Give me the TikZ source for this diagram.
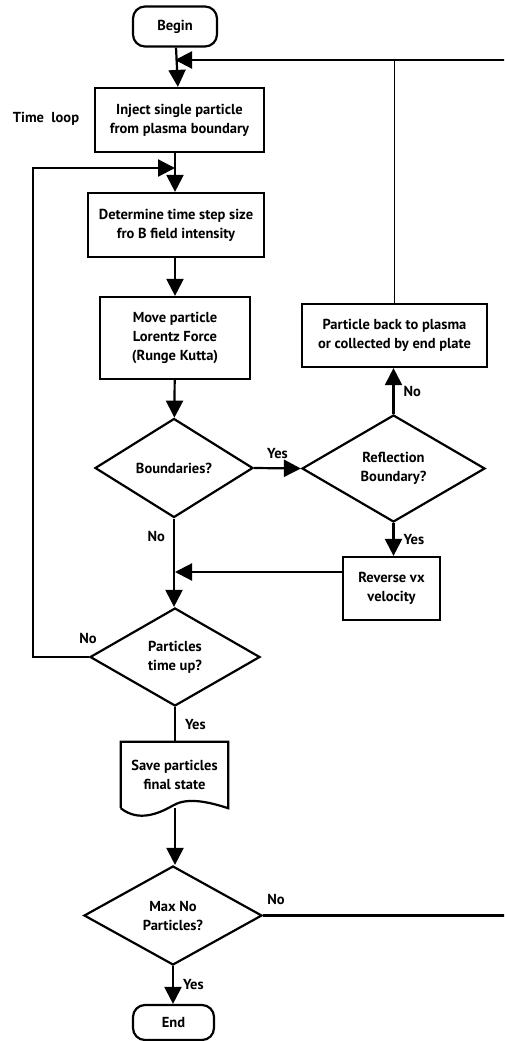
\documentclass[tikz,border=0pt]{standalone}
\usepackage{fontspec}
\setmainfont{PT Sans}
\usetikzlibrary{arrows.meta,shapes.geometric}
\begin{document}
\begin{tikzpicture}[x=1pt,y=-1pt,
  every node/.style={font=\bfseries\fontsize{14.5}{19}\selectfont, align=center},
  flow/.style={line width=2.2pt},
  thinflow/.style={line width=1.2pt},
  arr/.style={flow, -{Triangle[length=17pt,width=17pt]}},
  box/.style={draw, line width=2.2pt, rectangle, inner sep=0pt},
  term/.style={draw, line width=2.2pt, rounded corners=12pt, inner sep=0pt},
  dia/.style={draw, line width=2.2pt, diamond, inner sep=0pt, aspect=1.6},
  lab/.style={inner sep=0pt}
]
\useasboundingbox (0,0) rectangle (504,1041);
\clip (0,0) rectangle (504,1041);

% nodes
\node[term, minimum width=84pt, minimum height=40pt] (begin) at (175,26.5) {Begin};
\node[box, minimum width=169pt, minimum height=64pt] (inject) at (179.5,120) {Inject single particle\\from plasma boundary};
\node[box, minimum width=176pt, minimum height=64pt] (det) at (176,225) {Determine time step size\\fro B field intensity};
\node[box, minimum width=150pt, minimum height=82pt] (move) at (175,338) {Move particle\\Lorentz Force\\(Runge Kutta)};
\node[dia, minimum width=158pt, minimum height=99pt] (bnd) at (174,468) {Boundaries?};
\node[dia, minimum width=183pt, minimum height=107pt] (refl) at (393.5,468.5) {Reflection\\Boundary?};
\node[box, minimum width=185pt, minimum height=63pt] (back) at (394.5,335.5) {Particle back to plasma\\or collected by end plate};
\node[box, minimum width=97pt, minimum height=63pt] (rev) at (391.5,588.5) {Reverse vx\\velocity};
\node[dia, minimum width=170pt, minimum height=98pt] (tup) at (175,657) {Particles\\time up?};
\node[inner sep=0pt, minimum width=107pt, minimum height=66pt] (save) at (174.5,775) {Save particles\\final state};
\node[dia, minimum width=178pt, minimum height=99pt] (max) at (173,915.5) {Max No\\Particles?};
\node[term, minimum width=81pt, minimum height=35pt] (end) at (173.5,1022.5) {End};

% document shape for save
\draw[line width=2.2pt] (save.south west) -- (save.north west) -- (save.north east) -- (save.south east)
  .. controls (203,800) and (185,798) .. (172,806)
  .. controls (158,814) and (138,822) .. (save.south west);

% coordinates
\coordinate (m1) at (175,60);
\coordinate (m2) at (175,168);
\coordinate (m3) at (175,572);
\coordinate (lft) at (33,657);
\coordinate (rgt) at (530,915.5);
\coordinate (docb) at (175,808);

% connectors
\draw[arr] (begin) -- (inject);
\draw[arr] (max.east) -- (rgt) |- (m1);
\draw[thinflow] (back.north) -- (back.north |- m1);
\draw[arr] (inject.south -| m2) -- (det.north -| m2);
\draw[arr] (tup.west) -- (lft) |- (m2);
\draw[arr] (det.south -| move) -- (move.north);
\draw[arr] (move) -- (bnd);
\draw[arr] (bnd.east) -- (refl.west) node[lab, midway, above=8pt] {Yes};
\draw[arr] (refl.north) -- (refl.north |- back.south) node[lab, midway, right=9pt] {No};
\draw[arr] (refl.south) -- (refl.south |- rev.north) node[lab, midway, right=9pt] {Yes};
\draw[arr] (rev.west |- m3) -- (m3);
\draw[arr] (bnd.south) -- (bnd.south |- tup.north) node[lab, pos=0.2, left=8pt] {No};
\draw[flow] (tup.south) -- (tup.south |- save.north) node[lab, midway, right=9pt] {Yes};
\draw[arr] (docb) -- (docb |- max.north);
\draw[arr] (max.south) -- (max.south |- end.north) node[lab, midway, right=9pt] {Yes};

% free labels
\node[lab] (tl) at (46,119) {Time\ \ loop};
\node[lab] (nol) at (88,638) {No};
\node[lab] (nor) at (276,899) {No};
\end{tikzpicture}
\end{document}
